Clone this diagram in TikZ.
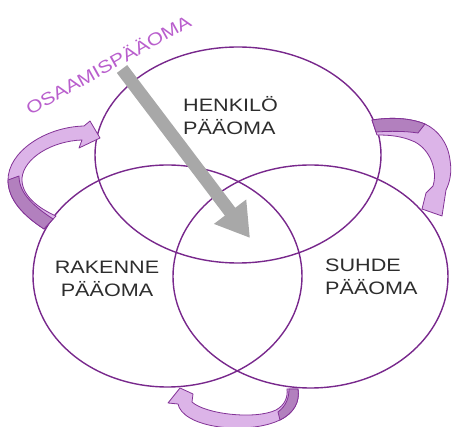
\documentclass[tikz,border=0pt]{standalone}
\usepackage{fontspec}
\newfontfamily\labelfont[FakeStretch=1.2]{Liberation Sans}
\usepackage{tikz}
\usetikzlibrary{arrows.meta}
\definecolor{ringline}{RGB}{120,40,140}
\definecolor{textgray}{RGB}{45,45,45}
\definecolor{arrowgray}{RGB}{168,168,168}
\definecolor{titlepurple}{RGB}{185,95,205}
\definecolor{bandlight}{RGB}{220,180,232}
\definecolor{banddark}{RGB}{178,128,190}
\definecolor{bandline}{RGB}{130,50,150}

\begin{document}
\begin{tikzpicture}[x=1pt,y=-1pt,
    ring/.style={draw=ringline, line width=1.4pt},
    caption/.style={font=\labelfont\fontsize{18}{23}\selectfont, text=textgray, inner sep=0pt},
    bendlight/.style={fill=bandlight, draw=bandline, line width=0.8pt, line join=round},
    benddark/.style={fill=banddark, draw=bandline, line width=0.8pt, line join=round}]
        \useasboundingbox (0,0) rectangle (453,427);
        \coordinate (cH) at (238,155);
        \coordinate (cR) at (167.5,276);
        \coordinate (cS) at (310.5,276.5);
        %Draw rings
        \draw[ring] (cH) ellipse [x radius=143pt, y radius=108pt];
        \draw[ring] (cR) ellipse [x radius=134.5pt, y radius=111pt];
        \draw[ring] (cS) ellipse [x radius=137.5pt, y radius=111.5pt];
        %Draw labels
        \node[caption, anchor=base west, align=left] (henkilo) at (183,135) {HENKILÖ\\PÄÄOMA};
        \node[caption, anchor=base, align=center] (rakenne) at (107,297) {RAKENNE\\PÄÄOMA};
        \node[caption, anchor=base west, align=left] (suhde) at (325,295) {SUHDE\\PÄÄOMA};
        \node[caption, text=titlepurple, font=\labelfont\fontsize{17.5}{20}\selectfont, rotate=29] (osaaminen) at (108,64) {OSAAMISPÄÄOMA};
        %Grey arrow
        \coordinate (g1) at (122,69);
        \coordinate (g2) at (250,238);
        \draw[arrowgray, line width=13pt, -{Triangle[length=33pt,width=38pt]}] (g1) -- (g2);
        %Left bend
        \filldraw[bendlight] (44,229) .. controls (24,216) and (8,200) .. (8,180)
          .. controls (8,152) and (45,127) .. (84,126) -- (90,121) -- (100,138) -- (79,148) -- (82,140)
          .. controls (52,141) and (24,158) .. (22,178) .. controls (21,195) and (38,208) .. (56,216) -- cycle;
        \filldraw[benddark] (44,229) .. controls (24,216) and (8,200) .. (8,180)
          -- (19,176) .. controls (19,194) and (35,207) .. (53,219) -- cycle;
        %Right bend
        \filldraw[bendlight] (372,120) .. controls (392,117) and (410,118) .. (425,124)
          .. controls (438,130) and (448,143) .. (450,160) .. controls (452,172) and (450,182) .. (446,190)
          -- (442,216) -- (422,209) -- (426,193) -- (433,186)
          .. controls (438,170) and (430,150) .. (415,142) .. controls (402,136) and (390,135) .. (377,135) -- cycle;
        \filldraw[benddark] (372,120) .. controls (392,117) and (410,118) .. (425,124)
          -- (418,133) .. controls (405,131) and (390,131) .. (376,132) -- cycle;
        %Bottom bend
        \filldraw[bendlight] (298,389) .. controls (300,402) and (294,413) .. (280,420)
          .. controls (255,432) and (210,430) .. (190,418) .. controls (183,414) and (179,409) .. (178,404)
          -- (168,403) -- (180,388) -- (193,394) -- (192,402)
          .. controls (205,414) and (255,420) .. (276,410) .. controls (285,405) and (288,397) .. (287,389) -- cycle;
        \filldraw[benddark] (298,389) .. controls (300,402) and (294,413) .. (280,420)
          -- (278,412) .. controls (286,406) and (289,398) .. (289,389) -- cycle;
\end{tikzpicture}
\end{document}
